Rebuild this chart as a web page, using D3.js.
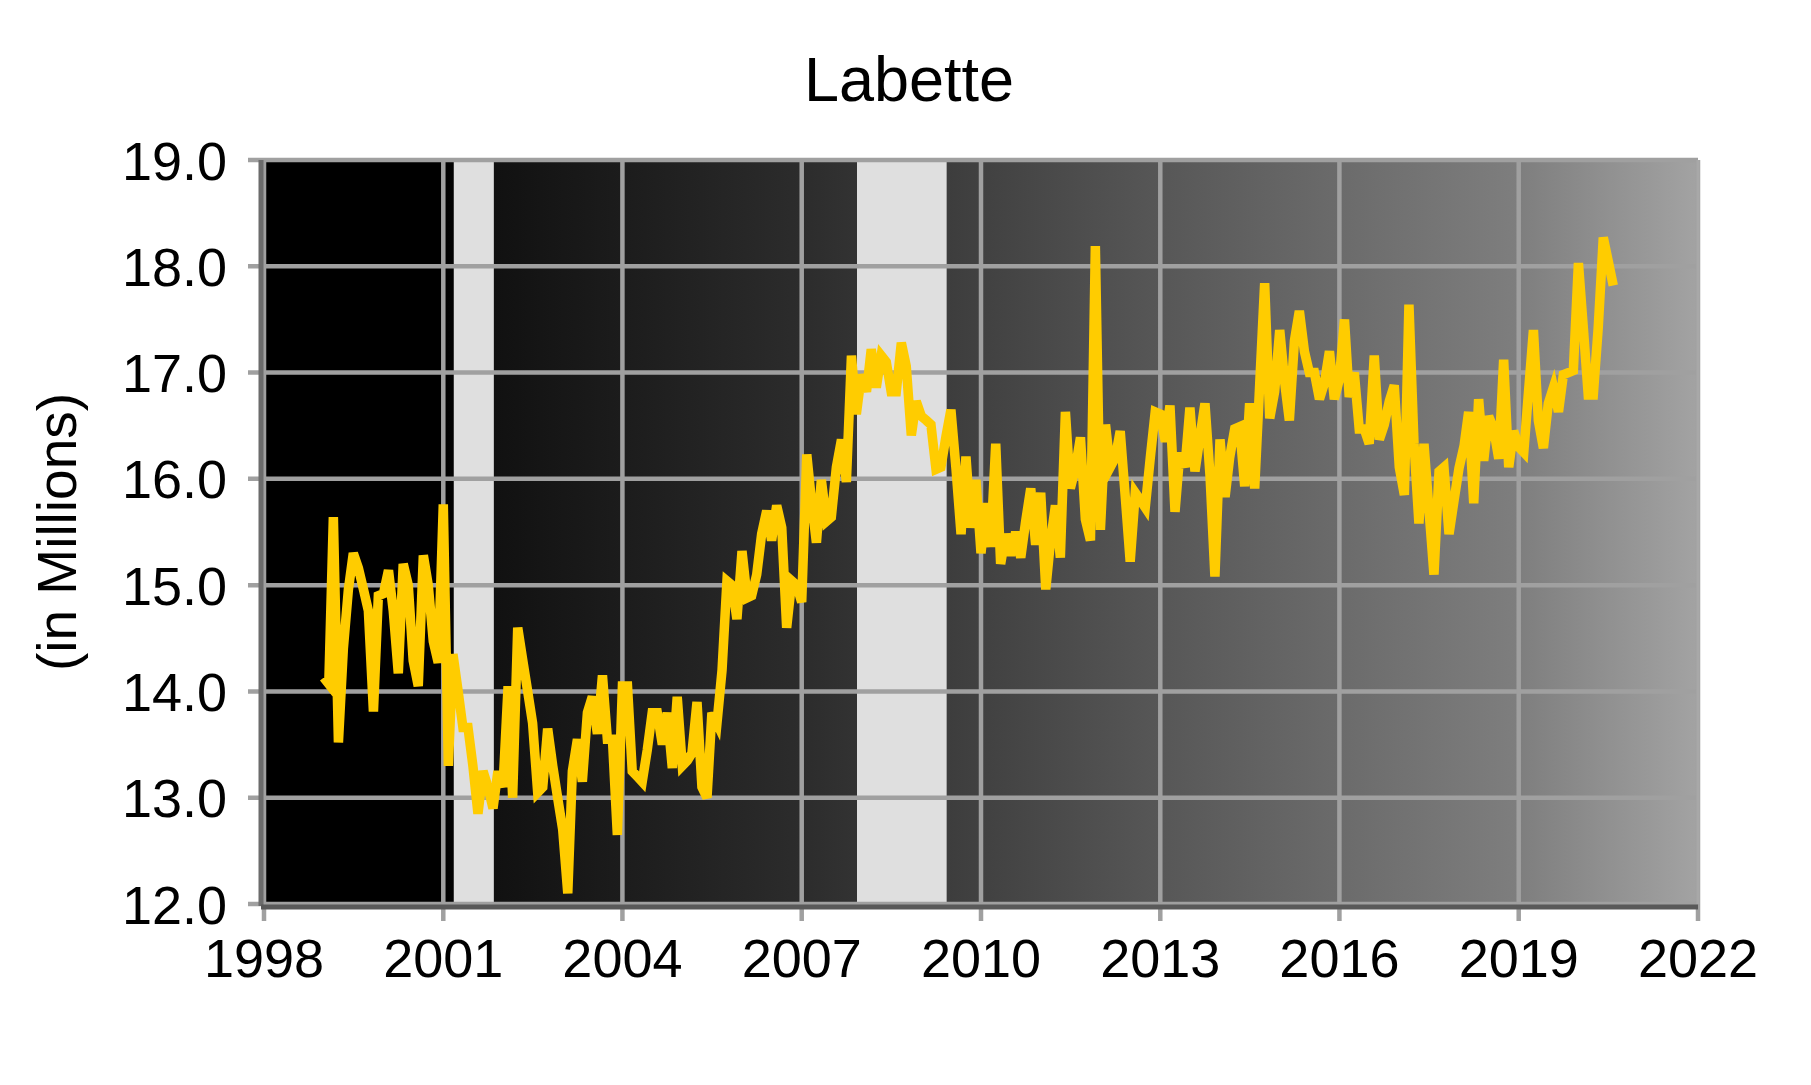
<!DOCTYPE html>
<html>
<head>
<meta charset="utf-8">
<script src="https://cdn.jsdelivr.net/npm/d3@7"></script>
<style>
    body { margin: 0; background: #ffffff; }
    text { font-family: "Liberation Sans", Arial, sans-serif; fill: #000000; }
</style>
</head>
<body>
<div id="mainChart"></div>
<script>
const width = 1811;
const height = 1085;
const marginTop = 160;
const marginRight = 113;
const marginBottom = 181;
const marginLeft = 264;

const chartTitle = "Labette";
const yTitle = "(in Millions)";

// monthly values, Jan 1999 .. Aug 2020
const values = [
    14.13, 14.07, 15.64, 13.52, 14.40, 14.96, 15.30, 15.16, 14.96, 14.76, 13.81, 14.90,
    14.92, 15.14, 14.76, 14.17, 15.20, 15.00, 14.29, 14.05, 15.28, 15.00, 14.47, 14.27,
    15.76, 13.30, 14.35, 14.01, 13.66, 13.66, 13.30, 12.85, 13.25, 13.10, 12.90, 13.25,
    13.10, 14.05, 13.00, 14.60, 14.30, 14.00, 13.70, 13.05, 13.10, 13.65, 13.30, 13.00,
    12.70, 12.10, 13.25, 13.55, 13.15, 13.80, 13.95, 13.60, 14.15, 13.55, 13.55, 12.65,
    14.05, 14.05, 13.25, 13.20, 13.15, 13.45, 13.80, 13.80, 13.50, 13.80, 13.28, 13.95,
    13.30, 13.35, 13.42, 13.90, 13.10, 13.00, 13.80, 13.70, 14.20, 15.04, 15.00, 14.68,
    15.32, 14.88, 14.90, 15.10, 15.48, 15.70, 15.42, 15.75, 15.54, 14.60, 15.04, 15.00,
    14.84, 16.23, 15.80, 15.40, 15.99, 15.60, 15.64, 16.11, 16.37, 15.97, 17.16, 16.61,
    16.98, 16.82, 17.22, 16.86, 17.16, 17.10, 16.82, 16.82, 17.28, 17.06, 16.41, 16.73,
    16.59, 16.55, 16.51, 16.09, 16.11, 16.40, 16.65, 16.10, 15.48, 16.21, 15.54, 15.99,
    15.30, 15.77, 15.36, 16.33, 15.20, 15.48, 15.28, 15.50, 15.26, 15.60, 15.91, 15.38,
    15.87, 14.96, 15.40, 15.75, 15.26, 16.63, 15.91, 16.10, 16.39, 15.62, 15.42, 18.19,
    15.52, 16.51, 16.11, 16.20, 16.45, 15.83, 15.22, 15.87, 15.80, 15.73, 16.20, 16.63,
    16.61, 16.35, 16.69, 15.69, 16.25, 16.11, 16.67, 16.07, 16.40, 16.71, 16.03, 15.08,
    16.37, 15.83, 16.20, 16.47, 16.49, 15.93, 16.71, 15.91, 16.90, 17.84, 16.57, 16.82,
    17.40, 16.90, 16.55, 17.30, 17.58, 17.20, 17.00, 17.00, 16.75, 16.90, 17.20, 16.75,
    16.94, 17.50, 16.77, 17.00, 16.47, 16.47, 16.33, 17.16, 16.37, 16.51, 16.73, 16.88,
    16.11, 15.85, 17.64, 16.33, 15.58, 16.33, 15.72, 15.10, 16.07, 16.11, 15.48, 15.79,
    16.10, 16.31, 16.63, 15.77, 16.75, 16.17, 16.59, 16.47, 16.19, 17.12, 16.11, 16.45,
    16.30, 16.25, 16.80, 17.40, 16.55, 16.29, 16.71, 16.86, 16.63, 16.98, 17.00, 17.02,
    18.03, 17.40, 16.79, 16.79, 17.42, 18.27, 18.05, 17.82
];

const months = d3.timeMonth.range(new Date(1999, 0, 1), new Date(2020, 8, 1));

const xTicks = [1998, 2001, 2004, 2007, 2010, 2013, 2016, 2019, 2022];
const yTicks = [12, 13, 14, 15, 16, 17, 18, 19];

// recession periods
const recessions = [
    { start: new Date(2001, 2, 6), end: new Date(2001, 10, 6) },
    { start: new Date(2007, 11, 5), end: new Date(2009, 5, 5) }
];

const gradientStops = [
    { offset: 0, color: "#000000" },
    { offset: 0.125, color: "#000000" },
    { offset: 0.16, color: "#111111" },
    { offset: 0.25, color: "#1c1c1c" },
    { offset: 0.375, color: "#2c2c2c" },
    { offset: 0.5, color: "#414141" },
    { offset: 0.625, color: "#575757" },
    { offset: 0.75, color: "#6b6b6b" },
    { offset: 0.875, color: "#7e7e7e" },
    { offset: 1, color: "#a3a3a3" }
];

const data = months.map((m, i) => ({ Date: m, Value: values[i] }));

const xScale = d3.scaleTime()
    .domain([new Date(1998, 0, 1), new Date(2022, 0, 1)])
    .range([marginLeft, width - marginRight]);

const yScale = d3.scaleLinear()
    .domain([12, 19])
    .range([height - marginBottom, marginTop]);

const yearX = y => xScale(new Date(y, 0, 1));

const svg = d3.create("svg")
    .attr("width", width)
    .attr("height", height);

const defs = svg.append("defs");
const grad = defs.append("linearGradient")
    .attr("id", "plotbg")
    .attr("x1", "0%").attr("x2", "100%")
    .attr("y1", "0%").attr("y2", "0%");
grad.selectAll("stop")
    .data(gradientStops)
    .enter()
    .append("stop")
    .attr("offset", d => d.offset)
    .attr("stop-color", d => d.color);

const plotW = width - marginRight - marginLeft;
const plotH = height - marginBottom - marginTop;

svg.append("rect")
    .attr("x", marginLeft)
    .attr("y", marginTop)
    .attr("width", plotW)
    .attr("height", plotH)
    .attr("fill", "url(#plotbg)");

svg.selectAll("rect.recession")
    .data(recessions)
    .enter()
    .append("rect")
    .attr("class", "recession")
    .attr("x", d => xScale(d.start))
    .attr("y", marginTop)
    .attr("width", d => xScale(d.end) - xScale(d.start))
    .attr("height", plotH)
    .attr("fill", "#dfdfdf");

// gridlines + tick marks
const gridColor = "#a0a0a0";

svg.selectAll("line.hgrid")
    .data(yTicks)
    .enter()
    .append("line")
    .attr("x1", marginLeft - 16)
    .attr("x2", width - marginRight)
    .attr("y1", d => yScale(d))
    .attr("y2", d => yScale(d))
    .attr("stroke", gridColor)
    .attr("stroke-width", 4.5);

svg.selectAll("line.vgrid")
    .data(xTicks)
    .enter()
    .append("line")
    .attr("x1", d => yearX(d))
    .attr("x2", d => yearX(d))
    .attr("y1", marginTop)
    .attr("y2", height - marginBottom + 17)
    .attr("stroke", gridColor)
    .attr("stroke-width", 4.5);

const line = d3.line()
    .x(d => xScale(d.Date))
    .y(d => yScale(d.Value));

svg.append("path")
    .datum(data)
    .attr("fill", "none")
    .attr("stroke", "#ffcc00")
    .attr("stroke-width", 9.5)
    .attr("d", line);

// axis lines
svg.append("line")
    .attr("x1", marginLeft - 3)
    .attr("x2", marginLeft - 3)
    .attr("y1", marginTop)
    .attr("y2", height - marginBottom + 2)
    .attr("stroke", "#6b6b6b")
    .attr("stroke-width", 5);

svg.append("line")
    .attr("x1", marginLeft - 3)
    .attr("x2", width - marginRight)
    .attr("y1", height - marginBottom + 3)
    .attr("y2", height - marginBottom + 3)
    .attr("stroke", "#595959")
    .attr("stroke-width", 5);

svg.append("line")
    .attr("x1", width - marginRight)
    .attr("x2", width - marginRight)
    .attr("y1", marginTop)
    .attr("y2", height - marginBottom)
    .attr("stroke", "#a8a8a8")
    .attr("stroke-width", 3);

// tick labels
svg.selectAll("text.ylab")
    .data(yTicks)
    .enter()
    .append("text")
    .attr("x", marginLeft - 37)
    .attr("y", d => yScale(d) + 19.5)
    .attr("text-anchor", "end")
    .style("font-size", "54px")
    .text(d => d.toFixed(1));

svg.selectAll("text.xlab")
    .data(xTicks)
    .enter()
    .append("text")
    .attr("x", d => yearX(d))
    .attr("y", height - marginBottom + 73)
    .attr("text-anchor", "middle")
    .style("font-size", "54px")
    .text(d => d);

svg.append("text")
    .attr("x", 909)
    .attr("y", 101)
    .attr("text-anchor", "middle")
    .style("font-size", "63px")
    .text(chartTitle);

svg.append("text")
    .attr("text-anchor", "middle")
    .attr("transform", "translate(76,532) rotate(-90)")
    .style("font-size", "55px")
    .text(yTitle);

mainChart.append(svg.node());
</script>
</body>
</html>
